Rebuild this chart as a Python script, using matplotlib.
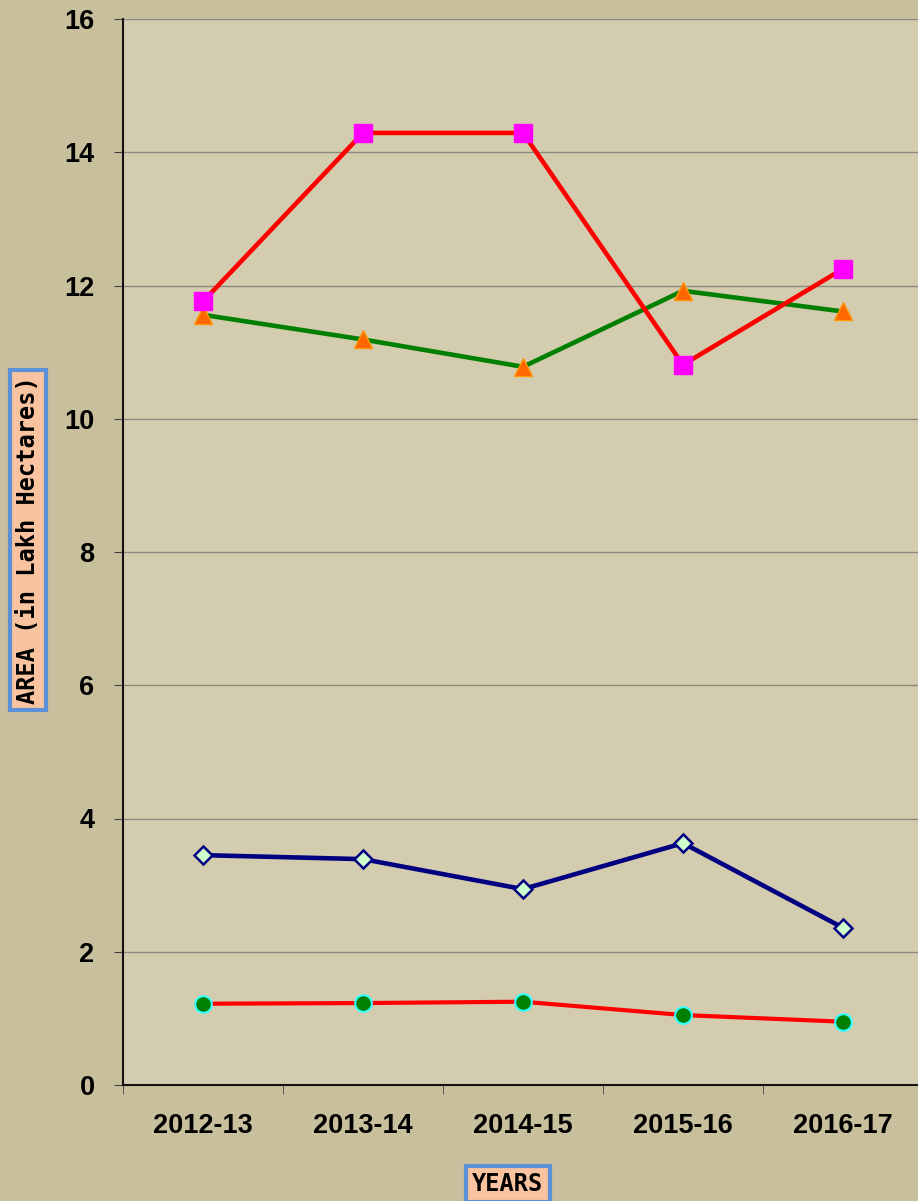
import matplotlib
matplotlib.use('Agg')
import matplotlib.pyplot as plt

# Data (area in lakh hectares)
years = ['2012-13', '2013-14', '2014-15', '2015-16', '2016-17']
series_square = [11.76, 14.29, 14.29, 10.81, 12.25]
series_triangle = [11.56, 11.19, 10.78, 11.92, 11.61]
series_diamond = [3.45, 3.39, 2.94, 3.63, 2.36]
series_circle = [1.22, 1.23, 1.25, 1.05, 0.95]

fig = plt.figure(figsize=(9.18, 12.01), dpi=100)
fig.patch.set_facecolor('#c8c09c')
ax = fig.add_axes([123 / 918, 116 / 1201, 800 / 918, 1066 / 1201])
ax.set_facecolor('#d4ccae')

x = list(range(1, len(years) + 1))

ax.plot(x, series_square, color='#ff0000', lw=3.3, marker='s', ms=13,
        mfc='#ff00ff', mec='#ff00ff', zorder=4)
ax.plot(x, series_triangle, color='#008000', lw=3.3, marker='^', ms=13,
        mfc='#ff6600', mec='#ff9900', zorder=3)
ax.plot(x, series_diamond, color='#000080', lw=3.3, marker='D', ms=9,
        mfc='#ccffcc', mec='#000080', mew=1.8, zorder=3)
ax.plot(x, series_circle, color='#ff0000', lw=3, marker='o', ms=12,
        mfc='#008000', mec='#33ffff', mew=1.5, zorder=3)

ax.set_xlim(0.5, 5.5)
ax.set_ylim(0, 16)
ax.set_yticks(range(0, 17, 2))
ax.yaxis.grid(True, color='#8a8a80', lw=1)
ax.set_axisbelow(True)

ax.set_xticks(x)
ax.set_xticklabels(years)
ax.set_xticks([i + 0.5 for i in range(0, 6)], minor=True)
ax.tick_params(axis='x', which='major', length=0, pad=20)
ax.tick_params(axis='x', which='minor', length=6.5, color='#444444')
ax.tick_params(axis='y', length=6.5, pad=14, color='#444444')
for lab in ax.get_xticklabels() + ax.get_yticklabels():
    lab.set_fontfamily('Liberation Sans')
    lab.set_fontweight('bold')
    lab.set_fontsize(19.5)

for side in ['top', 'right']:
    ax.spines[side].set_visible(False)
ax.spines['left'].set_color('#111111')
ax.spines['bottom'].set_color('#111111')
ax.spines['left'].set_linewidth(1.5)
ax.spines['bottom'].set_linewidth(1.5)

box = dict(boxstyle='square,pad=0.25', facecolor='#f9c3a0', edgecolor='#5b8fd6', lw=3)
fig.text(28 / 918, 1 - 540 / 1201, 'AREA (in Lakh Hectares)', rotation=90,
         ha='center', va='center', fontsize=17, fontweight='bold',
         family='DejaVu Sans Mono', bbox=box)
fig.text(508 / 918, 1 - 1184 / 1201, 'YEARS', ha='center', va='center',
         fontsize=17, fontweight='bold', family='DejaVu Sans Mono', bbox=box)

fig.savefig('out.png', dpi=100, facecolor=fig.get_facecolor())
